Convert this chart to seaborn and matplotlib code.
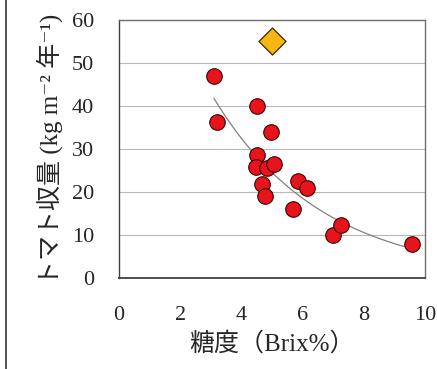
import numpy as np
import pandas as pd
import seaborn as sns
import matplotlib.pyplot as plt

# 糖度 (Brix%) と トマト収量 の読み取り値
brix = [3.10, 3.21, 4.52, 4.96, 4.50, 4.48, 4.83, 5.07, 4.66, 4.77, 5.84, 6.13, 5.70, 7.00, 7.24, 9.56]
yield_ = [47.0, 36.3, 40.0, 34.0, 28.6, 25.9, 25.5, 26.4, 21.9, 19.1, 22.6, 20.9, 16.0, 10.0, 12.2, 7.9]
# 目標値 (ダイヤ)
target_brix = [4.99]
target_yield = [55.2]

df = pd.DataFrame({'brix': brix, 'yield': yield_})

# 指数近似曲線
b, ln_a = np.polyfit(df['brix'], np.log(df['yield']), 1)
xs = np.linspace(df['brix'].min(), df['brix'].max(), 100)
fit = pd.DataFrame({'brix': xs, 'yield': np.exp(ln_a) * np.exp(b * xs)})

sns.set_style('white')
plt.rcParams['font.family'] = ['Liberation Serif', 'DejaVu Serif', 'Noto Sans CJK JP']

fig = plt.figure(figsize=(4.37, 3.69), dpi=100)
ax = fig.add_axes([0.272, 0.247, 0.701, 0.699])

sns.lineplot(data=fit, x='brix', y='yield', ax=ax, color='#808080', linewidth=0.9, zorder=2)
sns.scatterplot(data=df, x='brix', y='yield', ax=ax, s=125, color='#e8141c',
                edgecolor='#3a0000', linewidth=0.8, zorder=3)
sns.scatterplot(x=target_brix, y=target_yield, ax=ax, marker='D', s=190, color='#f5b614',
                edgecolor='#3a2a00', linewidth=0.9, zorder=3)

ax.set_xlim(0, 10)
ax.set_ylim(0, 60)
ax.set_xticks(range(0, 11, 2))
ax.set_yticks(range(0, 61, 10))
ax.yaxis.grid(True, color='#b8b8b8', linewidth=0.8)
ax.set_axisbelow(True)
for s in ax.spines.values():
    s.set_color('#707070')
    s.set_linewidth(1.0)
ax.spines['bottom'].set_color('#404040')
ax.spines['bottom'].set_linewidth(1.3)
ax.spines['left'].set_color('#404040')
ax.tick_params(axis='x', direction='in', length=4, color='#808080', pad=20, labelsize=16)
ax.tick_params(axis='y', length=0, pad=18, labelsize=16)

ax.set_xlabel('糖度（Brix%）', fontsize=18, labelpad=5,
              family=['Liberation Serif', 'Noto Sans CJK JP'])
ax.set_ylabel('トマト収量 (kg m⁻² 年⁻¹)', fontsize=18, labelpad=6,
              family=['Liberation Serif', 'DejaVu Serif', 'Noto Sans CJK JP'])

# 左側の枠線
fig.add_artist(plt.Line2D([0.014, 0.014], [0, 1], color='#333333', linewidth=1.2))

fig.savefig('out.png', dpi=100)
